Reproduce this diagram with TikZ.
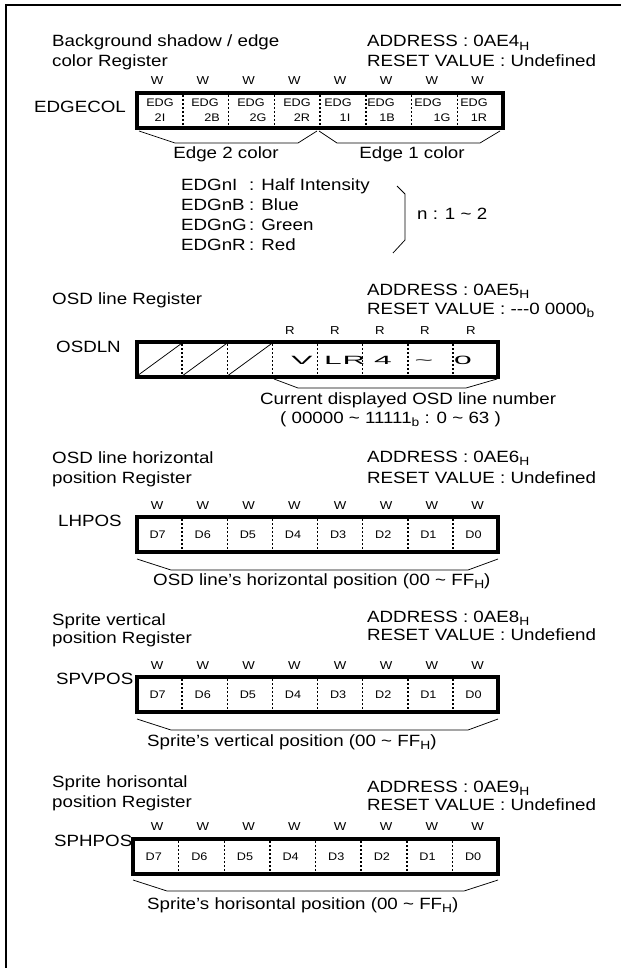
\documentclass[tikz,border=0pt]{standalone}
\usepackage{fontspec}
\setmainfont[FakeStretch=1.15]{Liberation Sans}
\newcommand{\hsub}[1]{\raisebox{-0.35ex}{\fontsize{12}{12}\selectfont #1}}
\newcommand{\wide}[1]{\scalebox{2.3}[1]{#1}}
\begin{document}
\begin{tikzpicture}[x=1pt,y=-1pt,
  txt/.style={inner sep=0,anchor=base west,font=\fontsize{16.3}{19}\selectfont},
  ctxt/.style={txt,anchor=base},
  small/.style={inner sep=0,anchor=base,font=\fontsize{11.5}{12}\selectfont},
  cell/.style={inner sep=0,anchor=base,font=\fontsize{11}{12}\selectfont},
  big/.style={inner sep=0,anchor=base,font=\fontsize{12}{12}\selectfont},
  regbox/.style={line width=3.2},
  divider/.style={line width=1.5,dash pattern=on 2pt off 2pt},
  brk/.style={line width=0.75},
  frame/.style={line width=2}]
\useasboundingbox (0,0) rectangle (621,968);
\draw[frame] (6,968) -- (6,5) -- (621,5);

% ---------- Section 1: EDGECOL
\node[txt] (t1a) at (52,47) {Background shadow / edge};
\node[txt] (t1b) at (52,67) {color Register};
\node[txt] (a1) at (367,47) {ADDRESS : 0AE4\hsub{H}};
\node[txt] (r1) at (367,67) {RESET VALUE : Undefined};
\foreach \i in {0,...,7} \node[small] (w1\i) at ({157+45.8*\i},85) {W};
\node[txt] (n1) at (34,113) {EDGECOL};
\draw[regbox] (137,93) rectangle (503,128);
\foreach \i in {1,...,7} \draw[divider] ({137+45.75*\i},95) -- ({137+45.75*\i},126);
\foreach \x/\t [count=\k] in {160/EDG,205/EDG,251/EDG,297/EDG,338/EDG,381/EDG,428/EDG,474/EDG}
  \node[cell] (eu\k) at (\x,107) {\t};
\foreach \x/\t [count=\k] in {160/2I,212/2B,258/2G,302/2R,345/1I,387/1B,442/1G,479/1R}
  \node[cell] (ed\k) at (\x,122) {\t};
\draw[brk] (139,131) -- (175,143) -- (298,143) -- (317,131);
\draw[brk] (319,131) -- (337,143) -- (480,143) -- (500,131);
\node[ctxt] (e2) at (226,159) {Edge 2 color};
\node[ctxt] (e1) at (412,159) {Edge 1 color};
\node[txt] (l1) at (181,191) {EDGnI};
\node[txt] (l1v) at (249,191) {: Half Intensity};
\node[txt] (l2) at (181,211) {EDGnB};
\node[txt] (l2v) at (249,211) {: Blue};
\node[txt] (l3) at (181,231) {EDGnG};
\node[txt] (l3v) at (249,231) {: Green};
\node[txt] (l4) at (181,251) {EDGnR};
\node[txt] (l4v) at (249,251) {: Red};
\draw[brk] (397,186) -- (405,194) -- (405,240) -- (393,253);
\node[txt] (nn) at (417,220) {n : 1 \textasciitilde{} 2};

% ---------- Section 2: OSDLN
\node[txt] (t2) at (52,304) {OSD line Register};
\node[txt] (a2) at (367,295) {ADDRESS : 0AE5\hsub{H}};
\node[txt] (r2) at (367,314) {RESET VALUE : -\kern0pt-\kern0pt-0 0000\hsub{b}};
\foreach \x [count=\k] in {290,335,380,425,471} \node[small] (rr\k) at (\x,334) {R};
\node[txt] (n2) at (56,352) {OSDLN};
\draw[regbox] (137,342) rectangle (498,377);
\foreach \i in {1,...,7} \draw[divider] ({137+45.125*\i},344) -- ({137+45.125*\i},375);
\foreach \i in {0,1,2} \draw[brk] ({137+45.125*\i},376) -- ({137+45.125*(\i+1)},343);
\node[big] (v1) at (302,364) {\wide{V}};
\node[big] (v2) at (333,364) {\wide{L}};
\node[big] (v3) at (354,364) {\wide{R}};
\node[big] (v4) at (383,364) {\wide{4}};
\node[big] (v5) at (424,364) {\wide{\textasciitilde}};
\node[big] (v6) at (463,364) {\wide{0}};
\draw[brk] (274,379) -- (298,388) -- (466,388) -- (497,379);
\node[txt] (c2a) at (260,404) {Current displayed OSD line number};
\node[txt] (c2b) at (280,423) {( 00000 \textasciitilde{} 11111\hsub{b} : 0 \textasciitilde{} 63 )};

% ---------- Section 3: LHPOS
\node[txt] (t3a) at (52,463) {OSD line horizontal};
\node[txt] (t3b) at (52,483) {position Register};
\node[txt] (a3) at (367,462) {ADDRESS : 0AE6\hsub{H}};
\node[txt] (r3) at (367,483) {RESET VALUE : Undefined};
\foreach \i in {0,...,7} \node[small] (w3\i) at ({157+45.8*\i},509) {W};
\node[txt] (n3) at (58,526) {LHPOS};
\draw[regbox] (137,517) rectangle (498,552);
\foreach \i in {1,...,7} \draw[divider] ({137+45.125*\i},519) -- ({137+45.125*\i},550);
\foreach \t [count=\k from 0] in {D7,D6,D5,D4,D3,D2,D1,D0}
  \node[cell] (d3\k) at ({157.6+45.125*\k},538) {\t};
\draw[brk] (137,559) -- (171,570) -- (468,570) -- (498,559);
\node[txt] (c3) at (153,585) {OSD line’s horizontal position (00 \textasciitilde{} FF\hsub{H})};

% ---------- Section 4: SPVPOS
\node[txt] (t4a) at (52,625) {Sprite vertical};
\node[txt] (t4b) at (52,643) {position Register};
\node[txt] (a4) at (367,622) {ADDRESS : 0AE8\hsub{H}};
\node[txt] (r4) at (367,640) {RESET VALUE : Undefiend};
\foreach \i in {0,...,7} \node[small] (w4\i) at ({157+45.8*\i},669) {W};
\node[txt] (n4) at (56,684) {SPVPOS};
\draw[regbox] (137,677) rectangle (498,712);
\foreach \i in {1,...,7} \draw[divider] ({137+45.125*\i},679) -- ({137+45.125*\i},710);
\foreach \t [count=\k from 0] in {D7,D6,D5,D4,D3,D2,D1,D0}
  \node[cell] (d4\k) at ({157.6+45.125*\k},698) {\t};
\draw[brk] (137,719) -- (171,730) -- (468,730) -- (498,719);
\node[txt] (c4) at (147,746) {Sprite’s vertical position (00 \textasciitilde{} FF\hsub{H})};

% ---------- Section 5: SPHPOS
\node[txt] (t5a) at (52,787) {Sprite horisontal};
\node[txt] (t5b) at (52,807) {position Register};
\node[txt] (a5) at (367,792) {ADDRESS : 0AE9\hsub{H}};
\node[txt] (r5) at (367,810) {RESET VALUE : Undefined};
\foreach \i in {0,...,7} \node[small] (w5\i) at ({157+45.8*\i},830) {W};
\node[txt] (n5) at (54,846) {SPHPOS};
\draw[regbox] (133,839) rectangle (498,874);
\foreach \i in {1,...,7} \draw[divider] ({133+45.625*\i},841) -- ({133+45.625*\i},872);
\foreach \t [count=\k from 0] in {D7,D6,D5,D4,D3,D2,D1,D0}
  \node[cell] (d5\k) at ({153.8+45.625*\k},860) {\t};
\draw[brk] (133,880) -- (167,891) -- (464,891) -- (498,880);
\node[txt] (c5) at (147,909) {Sprite’s horisontal position (00 \textasciitilde{} FF\hsub{H})};
\end{tikzpicture}
\end{document}
